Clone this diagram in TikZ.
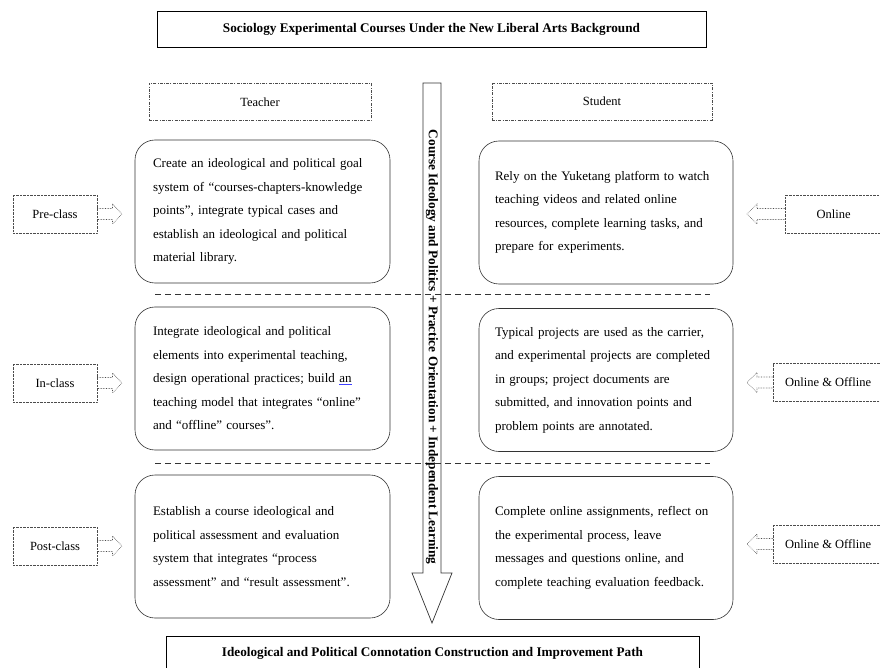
\documentclass[tikz,border=0pt]{standalone}
\usepackage{fontspec}
\setmainfont{Liberation Serif}
\usetikzlibrary{arrows.meta,positioning,calc}

% hollow block arrow: start anchor, tip, head length (signed)
\newcommand{\hollowarrow}[3]{%
  \draw[phasearrow] let \p1=(#1), \p2=(#2) in
    (\x1,\y1+5.5pt) -- ({\x2-(#3pt)},\y1+5.5pt) -- ({\x2-(#3pt)},\y1+10pt) -- (\x2,\y1)
    -- ({\x2-(#3pt)},\y1-10pt) -- ({\x2-(#3pt)},\y1-5.5pt) -- (\x1,\y1-5.5pt);}

\begin{document}
\begin{tikzpicture}[x=1pt,y=-1pt,
  body/.style={draw=black!80,line width=0.6pt,rounded corners=20pt,align=left,
    font=\fontsize{13}{23.5}\selectfont,minimum height=143pt},
  teach/.style={body,text width=219pt,inner xsep=18pt},
  stud/.style={body,text width=222pt,inner xsep=16pt},
  phase/.style={draw=black!70,densely dotted,minimum height=38pt,
    font=\fontsize{12.5}{15}\selectfont},
  role/.style={draw=black!70,dash pattern=on 3pt off 1.2pt on 1pt off 1.2pt,
    minimum height=37pt,font=\fontsize{12.5}{15}\selectfont},
  phasearrow/.style={draw=black!70,densely dotted,line width=0.6pt},
  frame/.style={draw,line width=0.8pt,font=\bfseries\fontsize{13.2}{15}\selectfont}]
  \useasboundingbox (0,0) rectangle (880,668);

  % title and result
  \node[frame,minimum width=549pt,minimum height=36pt] (title) at (431.5,29)
    {Sociology Experimental Courses Under the New Liberal Arts Background};
  \node[frame,anchor=north,minimum width=533pt,minimum height=34pt] (path) at (432.5,636)
    {Ideological and Political Connotation Construction and Improvement Path};

  % roles
  \node[role,minimum width=222pt] (teacher) at (260,102) {Teacher};
  \node[role,minimum width=220pt] (student) at (602,101.5) {Student};

  % separators
  \draw[black!80,dash pattern=on 6pt off 4pt] (155,294) -- (710,294);
  \draw[black!80,dash pattern=on 6pt off 4pt] (155,463) -- (710,463);

  % central arrow
  \draw[black!80,line width=0.7pt] (423,83) -- (441,83) -- (441,573) -- (452,573)
    -- (432,623) -- (412,573) -- (423,573) -- cycle;
  \node[rotate=-90,font=\bfseries\fontsize{13.3}{15}\selectfont] (flow) at (432,347)
    {Course Ideology and Politics + Practice Orientation + Independent Learning};

  % teacher side
  \node[teach] (t1) at (262.5,211.5) {Create an ideological and political goal\\
    system of “courses-chapters-knowledge\\
    points", integrate typical cases and\\
    establish an ideological and political\\
    material library.};
  \node[teach] (t2) at (262.5,378.5) {Integrate ideological and political\\
    elements into experimental teaching,\\
    design operational practices; build {\color{blue!75}\underline{\color{black}an}}\\
    teaching model that integrates “online”\\
    and “offline" courses”.};
  \node[teach] (t3) at (262.5,546.5) {Establish a course ideological and\\
    political assessment and evaluation\\
    system that integrates “process\\
    assessment” and “result assessment”.};

  % student side
  \node[stud] (s1) at (606,212.5) {Rely on the Yuketang platform to watch\\
    teaching videos and related online\\
    resources, complete learning tasks, and\\
    prepare for experiments.};
  \node[stud] (s2) at (606,380) {Typical projects are used as the carrier,\\
    and experimental projects are completed\\
    in groups; project documents are\\
    submitted, and innovation points and\\
    problem points are annotated.};
  \node[stud] (s3) at (606,548) {Complete online assignments, reflect on\\
    the experimental process, leave\\
    messages and questions online, and\\
    complete teaching evaluation feedback.};

  % phases
  \node[phase,minimum width=84pt] (pre) at (55,214) {Pre-class};
  \node[phase,minimum width=84pt] (in) at (55,383) {In-class};
  \node[phase,minimum width=84pt] (post) at (55,546) {Post-class};
  \node[phase,anchor=west,minimum width=97pt] (online) at (785,214) {Online};
  \node[phase,anchor=west,inner xsep=12pt] (mixA) at (773,382.5) {Online \& Offline};
  \node[phase,anchor=west,inner xsep=12pt] (mixB) at (773,544) {Online \& Offline};

  \coordinate (preTip) at (122,214);
  \coordinate (inTip) at (122,383);
  \coordinate (postTip) at (122,546);
  \coordinate (onTip) at (747,214);
  \coordinate (mixATip) at (747,382.5);
  \coordinate (mixBTip) at (747,544);

  \hollowarrow{pre.east}{preTip}{9.5}
  \hollowarrow{in.east}{inTip}{9.5}
  \hollowarrow{post.east}{postTip}{9.5}
  \hollowarrow{online.west}{onTip}{-10}
  \hollowarrow{mixA.west}{mixATip}{-10}
  \hollowarrow{mixB.west}{mixBTip}{-10}
\end{tikzpicture}
\end{document}
